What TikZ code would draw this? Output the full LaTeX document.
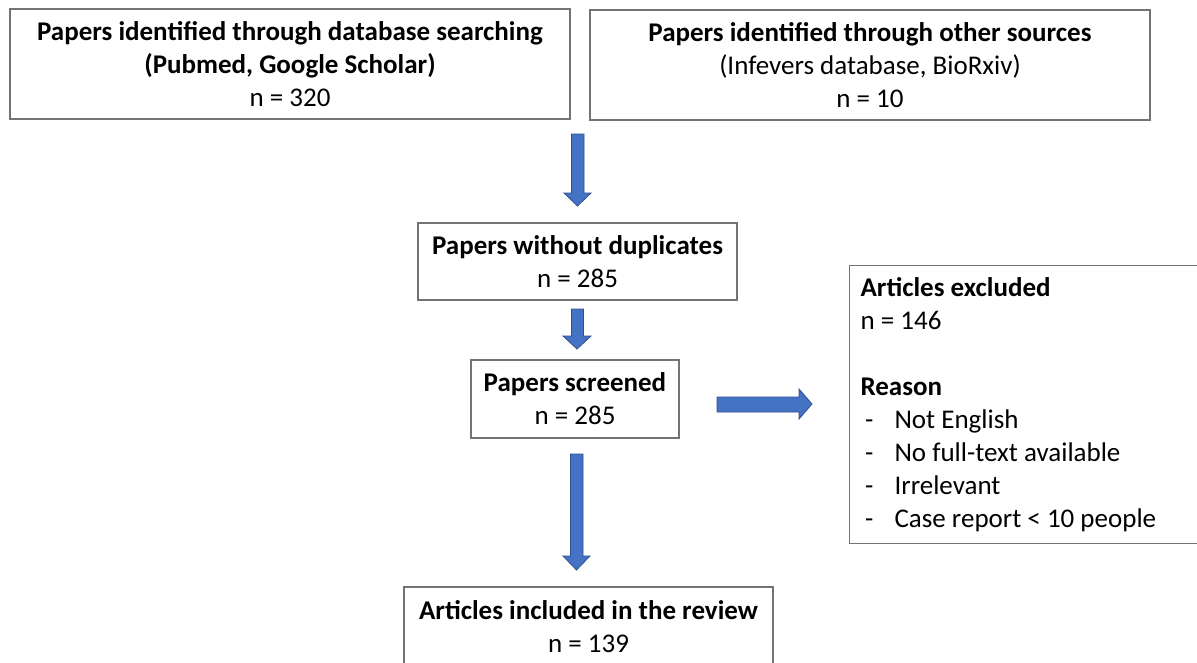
\documentclass[tikz,border=0pt]{standalone}
\usepackage{fontspec}
\setmainfont{Carlito}
\begin{document}
\begin{tikzpicture}[x=1pt,y=-1pt,
  box/.style={draw=black!55, line width=1.1pt, inner sep=0pt, align=center,
    font=\fontsize{27}{33}\selectfont},
  blockarrow/.style={fill=arrowblue, draw=arrowedge, line width=0.8pt, line join=miter}]
\definecolor{arrowblue}{HTML}{4472C4}
\definecolor{arrowedge}{HTML}{2F528F}
\useasboundingbox (0,0) rectangle (1197,662);
\clip (0,0) rectangle (1197,662);
\fill[white] (0,0) rectangle (1197,662);
% boxes
\node[box, minimum width=560pt, minimum height=110pt] (A) at (290,64)
  {\textbf{Papers identified through database searching}\\\textbf{(Pubmed, Google Scholar)}\\n = 320};
\node[box, minimum width=560pt, minimum height=110pt] (B) at (870,65)
  {\textbf{Papers identified through other sources}\\(Infevers database, BioRxiv)\\n = 10};
\node[box, minimum width=319pt, minimum height=77pt] (C) at (577.5,261.5)
  {\textbf{Papers without duplicates}\\n = 285};
\node[box, minimum width=208pt, minimum height=78pt] (D) at (575,399)
  {\textbf{Papers screened}\\n = 285};
\node[box, minimum width=369pt, minimum height=79pt] (F) at (588.5,626.5)
  {\textbf{Articles included in the review}\\n = 139};
\node[box, align=flush left, anchor=north west, minimum width=400pt, minimum height=278pt,
  text width=378pt, inner xsep=11pt] (E) at (849,265)
  {\textbf{Articles excluded}\\n = 146\\[33pt]\textbf{Reason}\\
   \makebox[34pt][l]{\,-}Not English\\
   \makebox[34pt][l]{\,-}No full-text available\\
   \makebox[34pt][l]{\,-}Irrelevant\\
   \makebox[34pt][l]{\,-}Case report < 10 people};
% block arrows
\draw[blockarrow] (571.5,134) -- (584,134) -- (584,193) -- (591,193) -- (577.5,206)
  -- (564,193) -- (571.5,193) -- cycle;
\draw[blockarrow] (571.5,309) -- (583.5,309) -- (583.5,336) -- (591,336) -- (577,349)
  -- (563,336) -- (571.5,336) -- cycle;
\draw[blockarrow] (570.5,454) -- (583,454) -- (583,556) -- (590,556) -- (576.5,570)
  -- (563,556) -- (570.5,556) -- cycle;
\draw[blockarrow] (717,397) -- (799,397) -- (799,389) -- (812,404) -- (799,419)
  -- (799,412) -- (717,412) -- cycle;
\end{tikzpicture}
\end{document}
